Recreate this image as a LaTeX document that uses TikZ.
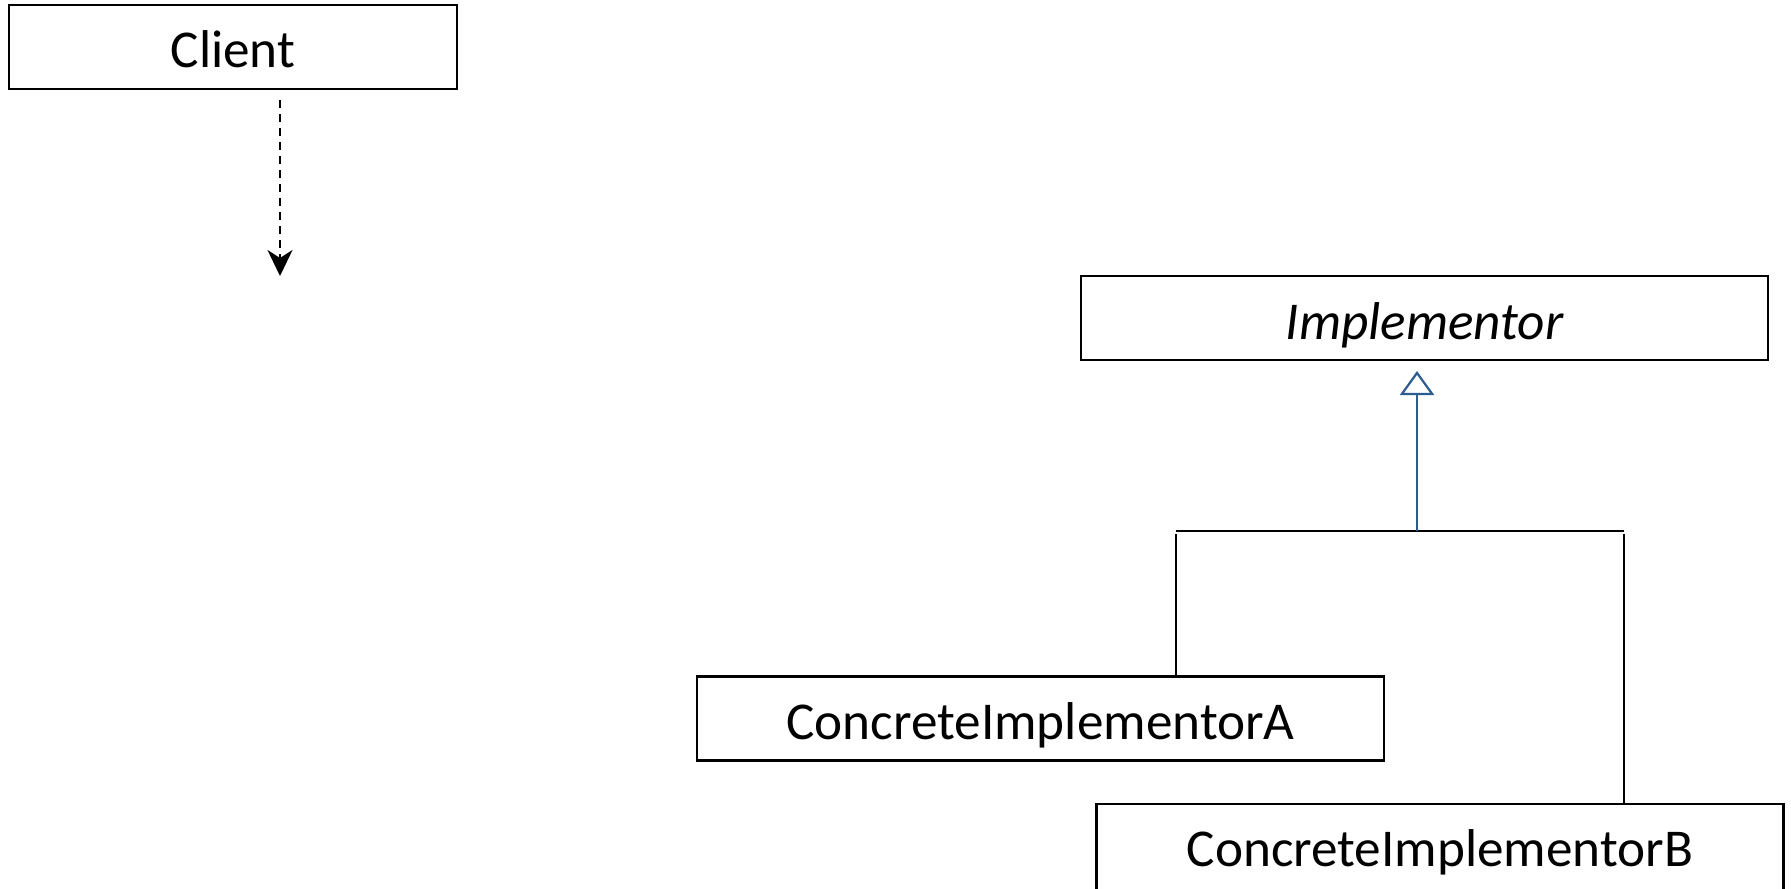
\documentclass[tikz,border=0pt]{standalone}
\usepackage{fontspec}
\setmainfont{Carlito}
\usetikzlibrary{arrows.meta}
\definecolor{umlblue}{RGB}{46,92,145}
\begin{document}
\begin{tikzpicture}[x=0.5pt,y=-0.5pt,
  classbox/.style={draw=black,line width=1.1pt,fill=white,minimum width=343.5pt,
    minimum height=42pt,inner sep=0pt,text height=21pt,text depth=0pt,
    font=\fontsize{26.6}{32}\selectfont},
  link/.style={draw=black,line width=1.1pt},
  realize/.style={draw=umlblue,line width=1.1pt,
    -{Triangle[open,length=12pt,width=17pt,fill=white]}},
  uses/.style={draw=black,line width=1.1pt,dash pattern=on 4pt off 3pt,
    -{Stealth[length=13pt,width=12.5pt,inset=4pt]}}]
  \clip (0,0) rectangle (1791,888);
  \fill[white] (0,0) rectangle (1791,888);

  % classes
  \node[classbox,minimum width=224pt] (client) at (233,47) {Client};
  \node[classbox] (impl) at (1424.5,318) {\itshape Implementor};
  \node[classbox] (concA) at (1040.5,718.5) {ConcreteImplementorA};
  \node[classbox,minimum height=46pt,text height=16pt] (concB) at (1440,850) {ConcreteImplementorB};

  % dependency from the client
  \coordinate (depstart) at (280,100);
  \coordinate (depend) at (280,276);
  \draw[uses] (depstart) -- (depend);

  % generalisation tree
  \coordinate (barL) at (1176,531);
  \coordinate (barR) at (1624,531);
  \coordinate (barM) at (1417,531);
  \coordinate (tip) at (1417,371);
  \draw[link] (barL) -- (barR);
  \draw[link] (concA.north -| barL) -- ([yshift=-1.5pt]barL);
  \draw[link] (concB.north -| barR) -- ([yshift=-1.5pt]barR);
  \draw[realize] (barM) -- (tip);
\end{tikzpicture}
\end{document}
